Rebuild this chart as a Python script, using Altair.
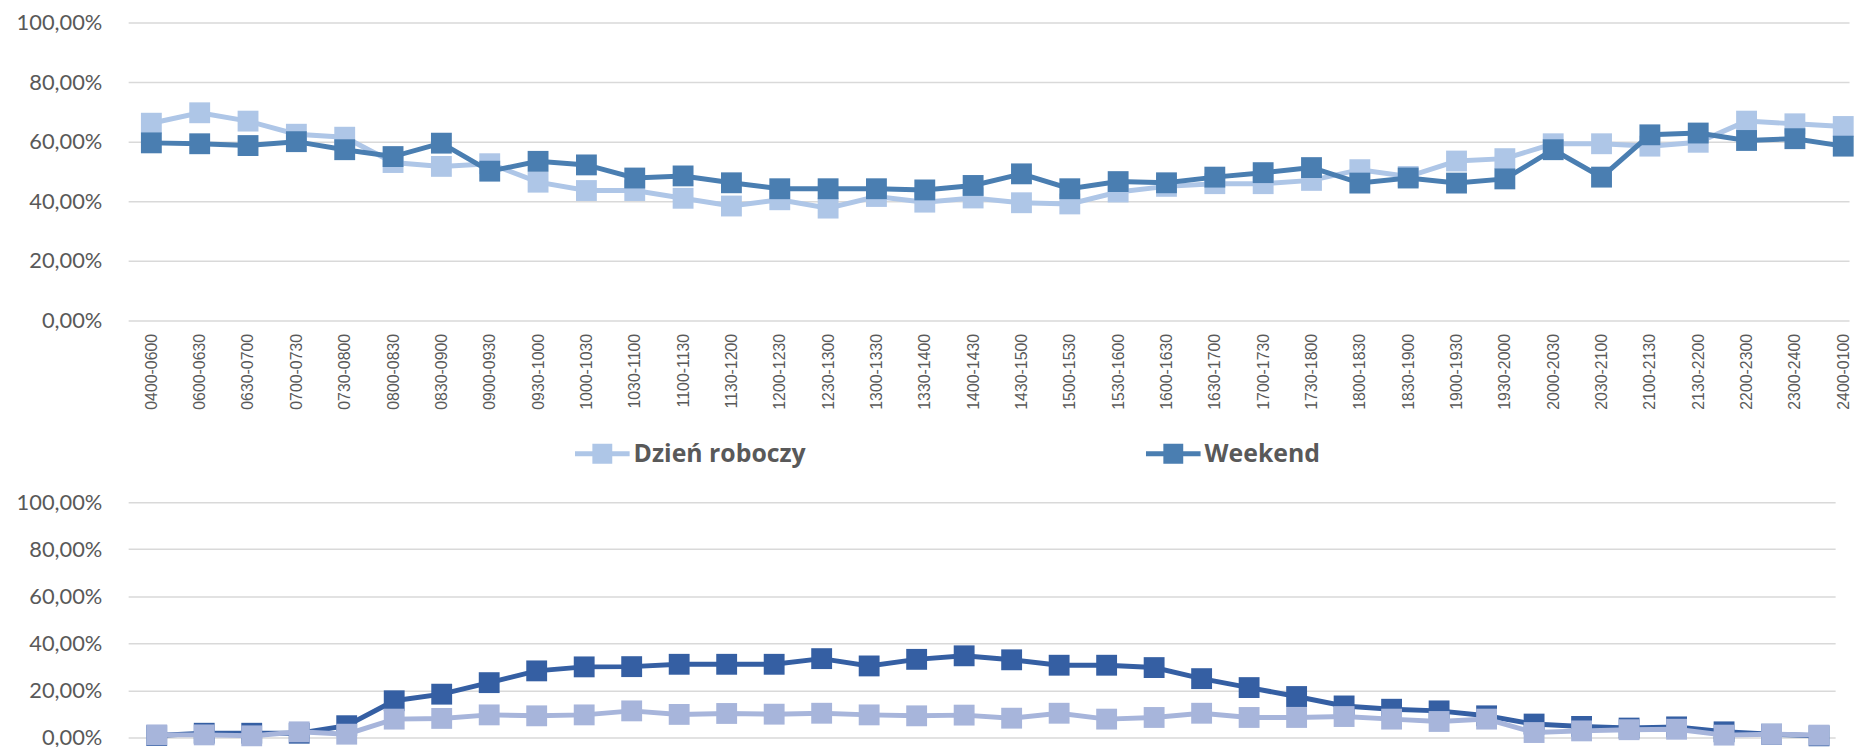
import altair as alt
import pandas as pd

categories = ["0400-0600", "0600-0630", "0630-0700", "0700-0730", "0730-0800", "0800-0830",
              "0830-0900", "0900-0930", "0930-1000", "1000-1030", "1030-1100", "1100-1130",
              "1130-1200", "1200-1230", "1230-1300", "1300-1330", "1330-1400", "1400-1430",
              "1430-1500", "1500-1530", "1530-1600", "1600-1630", "1630-1700", "1700-1730",
              "1730-1800", "1800-1830", "1830-1900", "1900-1930", "1930-2000", "2000-2030",
              "2030-2100", "2100-2130", "2130-2200", "2200-2300", "2300-2400", "2400-0100"]
series = ["Dzień roboczy", "Weekend"]

top_workday = [66.2, 69.7, 66.9, 62.5, 61.5, 53.0, 51.7, 52.6, 46.4, 43.6, 43.6, 41.0,
               38.4, 40.5, 37.7, 41.6, 39.7, 41.1, 39.5, 39.1, 43.1, 45.0, 45.9, 45.9,
               47.0, 50.6, 48.3, 53.5, 54.3, 59.3, 59.3, 58.5, 59.8, 66.9, 66.0, 65.1]
top_weekend = [59.6, 59.3, 58.7, 60.0, 57.3, 55.0, 59.5, 50.1, 53.4, 52.2, 47.8, 48.5,
               46.2, 44.2, 44.2, 44.2, 43.8, 45.3, 49.2, 44.2, 46.6, 46.2, 48.1, 49.6,
               51.3, 46.1, 47.8, 46.1, 47.5, 57.3, 48.1, 62.3, 62.9, 60.4, 61.0, 58.5]
bottom_workday = [1.1, 1.1, 0.7, 2.4, 1.4, 7.8, 8.1, 9.6, 9.2, 9.6, 11.3, 9.8,
                  10.2, 9.9, 10.3, 9.6, 9.2, 9.5, 8.2, 10.3, 7.8, 8.5, 10.3, 8.5,
                  8.5, 8.9, 7.8, 6.8, 7.8, 2.1, 2.8, 3.3, 3.5, 1.0, 1.4, 1.0]
bottom_weekend = [0.8, 1.8, 1.8, 1.8, 5.0, 15.6, 18.4, 23.3, 28.3, 30.0, 30.1, 31.1,
                  31.1, 31.1, 33.5, 30.4, 33.2, 34.7, 33.0, 30.7, 30.7, 29.7, 25.0, 21.2,
                  17.4, 13.4, 12.0, 11.3, 9.2, 5.7, 4.7, 4.0, 4.5, 2.4, 1.4, 0.7]

top_colors = ["#AEC6E7", "#4A7EB1"]
bottom_colors = ["#A7B5DB", "#355FA3"]


def to_long(workday, weekend):
    rows = []
    for i, c in enumerate(categories):
        rows.append({"slot": c, "series": series[0], "value": workday[i]})
        rows.append({"slot": c, "series": series[1], "value": weekend[i]})
    return pd.DataFrame(rows)


label_expr = "replace(format(datum.value, '.2f'), '.', ',') + '%'"
legend_path = ("M-1,-0.09L1,-0.09L1,0.09L-1,0.09Z "
               "M-0.364,-0.364L0.364,-0.364L0.364,0.364L-0.364,0.364Z")


def y_enc():
    return alt.Y("value:Q", scale=alt.Scale(domain=[0, 100]),
                 axis=alt.Axis(title=None, values=[0, 20, 40, 60, 80, 100], labelExpr=label_expr,
                               ticks=False, domain=False, gridColor="#D9D9D9", gridWidth=1.5,
                               labelFont="Lato", labelFontSize=22, labelColor="#595959",
                               labelPadding=26.5))


def series_layer(df, s, x, color):
    return alt.Chart(df).transform_filter(alt.datum.series == s).mark_line(
        strokeWidth=5,
        point=alt.OverlayMarkDef(shape="square", size=441, filled=True, opacity=1),
    ).encode(x=x, y=y_enc(), color=color)


# top chart
top_df = to_long(top_workday, top_weekend)
top_x = alt.X("slot:N", sort=categories,
              scale=alt.Scale(type="point", padding=0.3, align=0.8),
              axis=alt.Axis(title=None, labelAngle=270, labelFont="Liberation Sans",
                            labelFontSize=16, labelColor="#595959", labelPadding=13,
                            ticks=False, domain=False, grid=False, labelOverlap=False))
top_color = alt.Color("series:N", scale=alt.Scale(domain=series, range=top_colors),
                      legend=alt.Legend(orient="none", legendX=450, legendY=406.5,
                                        direction="horizontal", columns=2, title=None,
                                        symbolType=legend_path, symbolSize=3025,
                                        symbolStrokeWidth=0, labelFont="Open Sans",
                                        labelFontSize=25, labelFontWeight="bold",
                                        labelColor="#595959", labelOffset=4,
                                        columnPadding=342, padding=0, labelLimit=400))
top = alt.layer(
    series_layer(top_df, series[0], top_x, top_color),
    series_layer(top_df, series[1], top_x, top_color),
).properties(width=1733, height=300)

# bottom chart
bottom_df = to_long(bottom_workday, bottom_weekend)
bottom_x = alt.X("slot:N", sort=categories,
                 scale=alt.Scale(type="point", padding=0.47, align=0.64),
                 axis=None)
bottom_color = alt.Color("series:N", scale=alt.Scale(domain=series, range=bottom_colors),
                         legend=None)
bottom = alt.layer(
    series_layer(bottom_df, series[1], bottom_x, bottom_color),
    series_layer(bottom_df, series[0], bottom_x, bottom_color),
).properties(width=1719, height=237)

chart = alt.vconcat(top, bottom, spacing=24).resolve_scale(color="independent").properties(
    padding={"left": 8, "top": 1, "right": 0, "bottom": 0},
    background="white",
).configure_view(stroke=None)

chart.save("out.html", embed_options={"renderer": "svg", "actions": False})
